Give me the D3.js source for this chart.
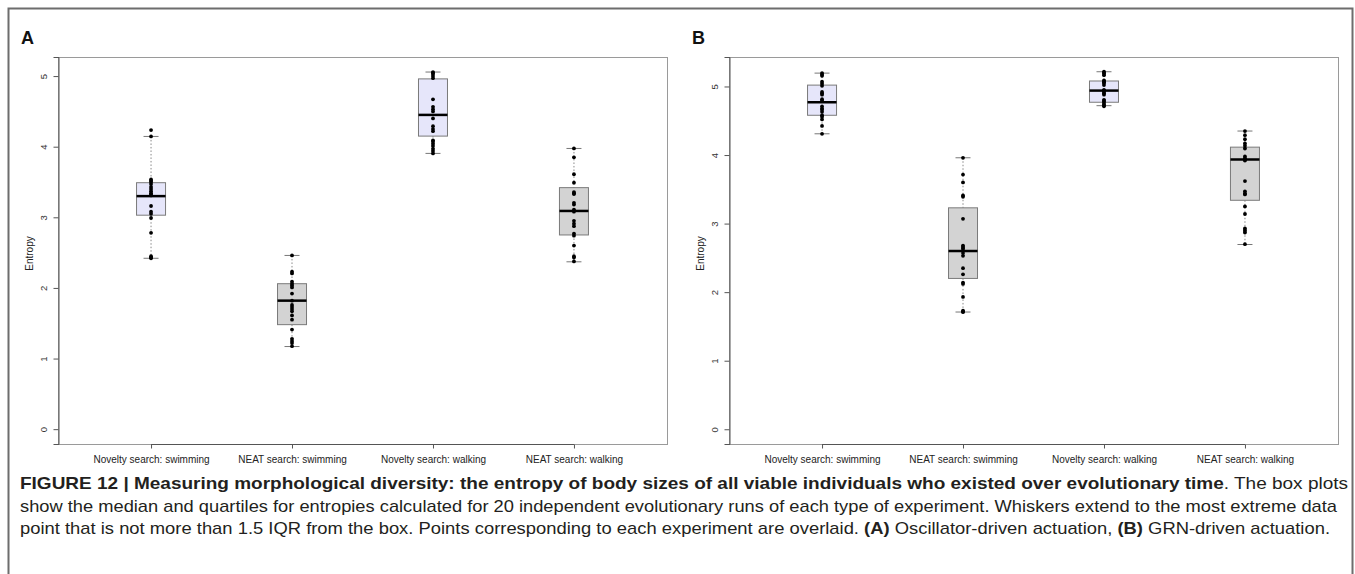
<!DOCTYPE html>
<html>
<head>
<meta charset="utf-8">
<script src="https://cdn.jsdelivr.net/npm/d3@7"></script>
<style>
  body { margin: 0; background: #fff; }
  svg { display: block; font-family: "Liberation Sans", Arial, sans-serif; }
</style>
</head>
<body>
<svg id="chart" width="1355" height="574"></svg>
<script>
// categories shared by both panels
var categories = ["Novelty search: swimming", "NEAT search: swimming", "Novelty search: walking", "NEAT search: walking"];
var boxFills = ["#e6e6fa", "#d3d3d3", "#e6e6fa", "#d3d3d3"];
var yTicks = [0, 1, 2, 3, 4, 5];

// Panel A: oscillator-driven, points per category
var pointsA = [
    [4.235, 4.145, 3.537, 3.517, 3.50, 3.47, 3.43, 3.40, 3.37, 3.34, 3.31, 3.16, 3.08, 3.05, 2.99, 2.78, 2.45, 2.43, 2.42, 3.33],
    [2.46, 2.23, 2.205, 2.09, 2.06, 2.035, 2.007, 1.92, 1.82, 1.76, 1.73, 1.70, 1.67, 1.61, 1.55, 1.41, 1.28, 1.25, 1.22, 1.175],
    [5.057, 5.045, 5.03, 5.00, 4.97, 4.67, 4.565, 4.53, 4.50, 4.40, 4.29, 4.25, 4.22, 4.09, 4.07, 4.04, 4.01, 3.97, 3.94, 3.905],
    [3.975, 3.85, 3.61, 3.49, 3.357, 3.34, 3.33, 3.205, 3.18, 3.11, 3.08, 2.95, 2.91, 2.875, 2.77, 2.74, 2.60, 2.45, 2.43, 2.375]
];
// [lower whisker, Q1, median, Q3, upper whisker]
var boxStatsA = [
    [2.42, 3.03, 3.30, 3.49, 4.145],
    [1.17, 1.48, 1.82, 2.06, 2.46],
    [3.905, 4.15, 4.45, 4.96, 5.057],
    [2.37, 2.75, 3.09, 3.42, 3.975]
];

// Panel B: GRN-driven
var pointsB = [
    [5.195, 5.175, 5.155, 5.07, 5.04, 5.01, 4.92, 4.90, 4.88, 4.815, 4.795, 4.71, 4.68, 4.66, 4.63, 4.58, 4.56, 4.52, 4.425, 4.31],
    [3.96, 3.715, 3.60, 3.41, 3.39, 3.07, 2.68, 2.66, 2.64, 2.61, 2.57, 2.53, 2.35, 2.26, 2.14, 2.12, 1.93, 1.73, 1.715, 1.71],
    [5.215, 5.20, 5.185, 5.165, 5.09, 5.07, 5.06, 5.05, 5.02, 4.95, 4.94, 4.92, 4.90, 4.88, 4.805, 4.79, 4.775, 4.745, 4.73, 4.71],
    [4.35, 4.29, 4.23, 4.17, 4.135, 4.095, 3.98, 3.95, 3.93, 3.92, 3.62, 3.47, 3.44, 3.425, 3.25, 3.14, 2.93, 2.90, 2.87, 2.70]
];
var boxStatsB = [
    [4.31, 4.58, 4.77, 5.02, 5.195],
    [1.71, 2.20, 2.60, 3.23, 3.96],
    [4.72, 4.77, 4.94, 5.08, 5.215],
    [2.695, 3.34, 3.935, 4.115, 4.35]
];

var svg = d3.select("#chart");

// outer frame round the figure
svg.append("rect")
    .attr("x", 8.5).attr("y", 8.5)
    .attr("width", 1344).attr("height", 600)
    .style("fill", "none")
    .style("stroke", "#6d6d6d")
    .style("stroke-width", 2);

function drawPanel(opts) {
    var left = opts.left, right = left + 609, top = 57, bottom = 444;

    var xScale = d3.scaleLinear().domain([0.34, 4.66]).range([left, right]);
    var yScale = d3.scaleLinear().domain(opts.yDomain).range([bottom, top]);

    var g = svg.append("g").attr("class", "panel");

    // panel letter
    g.append("text")
        .attr("x", left - 37)
        .attr("y", 44)
        .style("font-size", "18px")
        .style("font-weight", "bold")
        .style("fill", "#111")
        .text(opts.letter);

    // plot frame
    g.append("rect")
        .attr("x", left + 0.5).attr("y", top + 0.5)
        .attr("width", right - left).attr("height", bottom - top)
        .style("fill", "none")
        .style("stroke", "#9a9a9a")
        .style("stroke-width", 1);

    // left axis
    var yAxis = g.append("g")
        .attr("transform", `translate(${left + 0.5},0)`)
        .call(d3.axisLeft(yScale).tickValues(yTicks).tickSize(5).tickFormat(d3.format("d")));
    yAxis.select(".domain").style("stroke", "#555");
    yAxis.selectAll(".tick line").style("stroke", "#555");
    yAxis.selectAll(".tick text")
        .attr("x", 0).attr("y", 0).attr("dy", null)
        .attr("text-anchor", "middle")
        .attr("transform", "translate(-12,0) rotate(-90)")
        .style("font-family", "Liberation Sans, Arial, sans-serif")
        .style("font-size", "9.5px")
        .style("fill", "#333");

    // bottom axis
    var xAxis = g.append("g")
        .attr("transform", `translate(0,${bottom + 0.5})`)
        .call(d3.axisBottom(xScale).tickValues([1, 2, 3, 4]).tickSize(4).tickFormat(function(d) { return categories[d - 1]; }));
    xAxis.select(".domain").attr("d", `M${xScale(1)},0H${xScale(4)}`).style("stroke", "#555");
    xAxis.selectAll(".tick line").style("stroke", "#555");
    xAxis.selectAll(".tick text")
        .attr("y", 18.5)
        .attr("dy", 0)
        .style("font-family", "Liberation Sans, Arial, sans-serif")
        .style("font-size", "10px")
        .style("fill", "#222");

    // y label
    g.append("text")
        .attr("transform", `translate(${left - 25},${(top + bottom) / 2 + 3}) rotate(-90)`)
        .attr("text-anchor", "middle")
        .style("font-size", "10px")
        .style("fill", "#222")
        .text("Entropy");

    var boxW = 29, capW = 15;

    opts.stats.forEach(function(s, i) {
        var cx = xScale(i + 1);
        var grp = g.append("g").attr("class", "box");

        // whiskers (dotted)
        grp.append("line")
            .attr("x1", cx).attr("x2", cx)
            .attr("y1", yScale(s[4])).attr("y2", yScale(s[3]))
            .style("stroke", "#888").style("stroke-dasharray", "1.5,2");
        grp.append("line")
            .attr("x1", cx).attr("x2", cx)
            .attr("y1", yScale(s[1])).attr("y2", yScale(s[0]))
            .style("stroke", "#888").style("stroke-dasharray", "1.5,2");

        // caps
        [s[0], s[4]].forEach(function(v) {
            grp.append("line")
                .attr("x1", cx - capW / 2).attr("x2", cx + capW / 2)
                .attr("y1", yScale(v)).attr("y2", yScale(v))
                .style("stroke", "#777");
        });

        // box
        grp.append("rect")
            .attr("x", cx - boxW / 2)
            .attr("y", yScale(s[3]))
            .attr("width", boxW)
            .attr("height", yScale(s[1]) - yScale(s[3]))
            .style("fill", boxFills[i])
            .style("stroke", "#7a7a7a")
            .style("stroke-width", 1);

        // median
        grp.append("line")
            .attr("x1", cx - boxW / 2).attr("x2", cx + boxW / 2)
            .attr("y1", yScale(s[2])).attr("y2", yScale(s[2]))
            .style("stroke", "#000")
            .style("stroke-width", 2.5);

        // overlaid points
        grp.selectAll(".dot")
            .data(opts.points[i])
            .enter().append("circle")
            .attr("class", "dot")
            .attr("cx", cx)
            .attr("cy", d => yScale(d))
            .attr("r", 1.9)
            .style("fill", "#000");
    });
}

drawPanel({ letter: "A", left: 58, yDomain: [-0.21, 5.27], stats: boxStatsA, points: pointsA });
drawPanel({ letter: "B", left: 729, yDomain: [-0.215, 5.43], stats: boxStatsB, points: pointsB });

// caption
var caption = svg.append("g")
    .attr("class", "caption")
    .style("font-family", "Liberation Sans, Arial, sans-serif")
    .style("font-size", "17px")
    .style("fill", "#231f20");

var line1 = caption.append("text").attr("x", 20).attr("y", 489);
line1.append("tspan").style("font-weight", "bold")
    .text("FIGURE 12 | Measuring morphological diversity: the entropy of body sizes of all viable individuals who existed over evolutionary time");
line1.append("tspan").text(". The box plots");

caption.append("text").attr("x", 20).attr("y", 512)
    .text("show the median and quartiles for entropies calculated for 20 independent evolutionary runs of each type of experiment. Whiskers extend to the most extreme data");

var line3 = caption.append("text").attr("x", 20).attr("y", 534);
line3.append("tspan").text("point that is not more than 1.5 IQR from the box. Points corresponding to each experiment are overlaid. ");
line3.append("tspan").style("font-weight", "bold").text("(A)");
line3.append("tspan").text(" Oscillator-driven actuation, ");
line3.append("tspan").style("font-weight", "bold").text("(B)");
line3.append("tspan").text(" GRN-driven actuation.");

// fit each caption line to the width seen in the figure
var lineWidths = [1328, 1317, 1310];
caption.selectAll("text").each(function(d, i) {
    d3.select(this).attr("textLength", lineWidths[i]).attr("lengthAdjust", "spacingAndGlyphs");
});
</script>
</body>
</html>
